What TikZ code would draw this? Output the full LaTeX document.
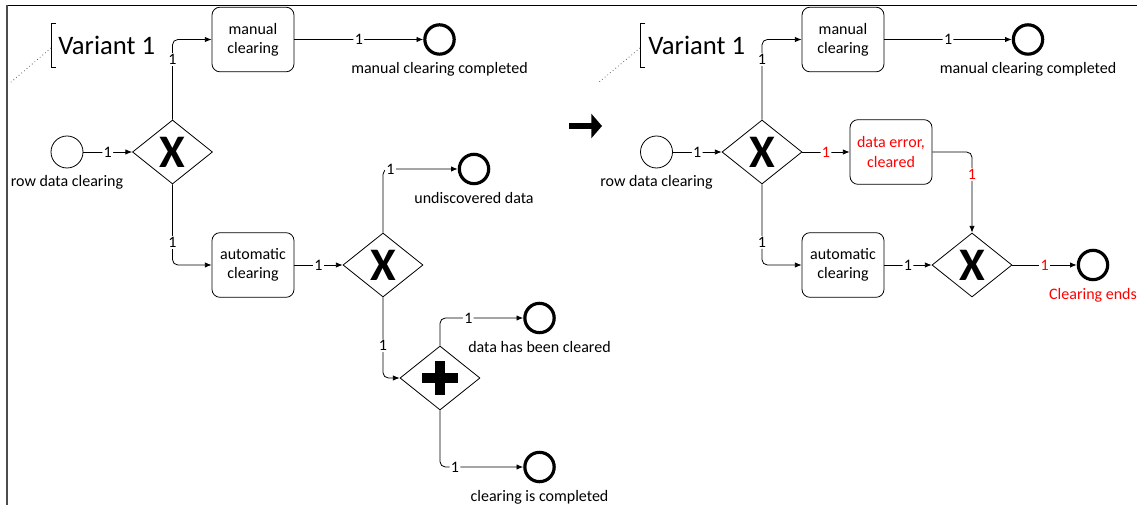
\documentclass[tikz,border=0pt]{standalone}
\usepackage{fontspec}
\setmainfont{Carlito}
\usetikzlibrary{shapes.geometric,arrows.meta,positioning}

\definecolor{errred}{RGB}{255,0,0}

\tikzset{
  startev/.style={circle,draw,line width=0.6pt,minimum size=24pt,inner sep=0pt},
  endev/.style={circle,draw,line width=2.4pt,minimum size=22pt,inner sep=0pt},
  task/.style={draw,rounded corners=6pt,line width=0.6pt,minimum width=61.5pt,minimum height=48.5pt,
    align=center,inner sep=1pt,font=\fontsize{12}{14.5}\selectfont},
  xgate/.style={diamond,draw,line width=0.6pt,minimum width=60pt,minimum height=48pt,inner sep=0pt,
    font=\fontsize{35}{35}\selectfont\bfseries},
  pgate/.style={diamond,draw,line width=0.6pt,minimum width=60pt,minimum height=48pt,inner sep=0pt,
    path picture={
      \draw[line width=7pt] ([xshift=-13.5pt]path picture bounding box.center) -- ([xshift=13.5pt]path picture bounding box.center)
        ([yshift=-12.75pt]path picture bounding box.center) -- ([yshift=12.75pt]path picture bounding box.center);
    }},
  flow/.style={-{Latex[length=5pt,width=4pt]},line width=0.6pt,rounded corners=4pt},
  num/.style={fill=white,inner sep=1pt,font=\fontsize{12}{12}\selectfont},
  evlabel/.style={inner sep=0pt,font=\fontsize{12}{14}\selectfont},
  varlabel/.style={anchor=west,inner sep=0pt,font=\fontsize{20}{20}\selectfont},
  bracket/.style={line width=0.5pt},
  assoc/.style={dotted,line width=0.6pt,black!60},
  bigarrow/.style={line width=4.5pt,-{Triangle[length=8pt,width=18pt]}},
}

\begin{document}
\begin{tikzpicture}[x=0.75pt,y=-0.75pt]
  \useasboundingbox (0,0) rectangle (1137,505);
  % frame
  \draw[line width=0.9pt] (7,5.5) -- (1137,5.5);
  \draw[line width=1.5pt,black!70] (7,5) -- (7,505);

  % variant 1, before
  \node[varlabel] (var1) at (58,45) {Variant 1};
  \draw[bracket] (56,23) -- (51,23) -- (51,67) -- (56,67);
  \coordinate (var1tail) at (10,83);
  \draw[assoc] (51,48) -- (var1tail);

  \node[startev] (start1) at (67,152) {};
  \node[xgate] (g1) at (172.5,152) {X};
  \node[task] (man1) at (253,39.5) {manual\\clearing};
  \node[endev] (manend1) at (439.5,39.5) {};
  \node[task] (auto1) at (253,265) {automatic\\clearing};
  \node[xgate] (g2) at (383,265) {X};
  \node[endev] (undend) at (474,169) {};
  \node[pgate] (g3) at (440,378) {};
  \node[endev] (clrend) at (539.5,318) {};
  \node[endev] (cmpend) at (539.5,467) {};

  \node[evlabel,below=4.8pt of start1] (start1lbl) {row data clearing};
  \node[evlabel,below=4.8pt of manend1] (manend1lbl) {manual clearing completed};
  \node[evlabel,below=4.8pt of undend] (undendlbl) {undiscovered data};
  \node[evlabel,below=4.8pt of clrend] (clrendlbl) {data has been cleared};
  \node[evlabel,below=4.8pt of cmpend] (cmpendlbl) {clearing is completed};

  \draw[flow] (start1) -- node[num]{1} (g1);
  \draw[flow] (g1.north) |- node[num,pos=0.375]{1} (man1);
  \draw[flow] (man1) -- node[num]{1} (manend1);
  \draw[flow] (g1.south) |- node[num,pos=0.36]{1} (auto1);
  \draw[flow] (auto1) -- node[num]{1} (g2);
  \draw[flow] (g2.north) |- node[num,pos=0.55]{1} (undend);
  \draw[flow] (g2.south) |- node[num,pos=0.3]{1} (g3);
  \draw[flow] (g3.north) |- node[num,pos=0.67]{1} (clrend);
  \draw[flow] (g3.south) |- node[num,pos=0.59]{1} (cmpend);

  % shift
  \coordinate (shiftL) at (569,126);
  \coordinate (shiftR) at (602,126);
  \draw[bigarrow] (shiftL) -- (shiftR);

  % variant 1, after
  \node[varlabel] (var2) at (648,45) {Variant 1};
  \draw[bracket] (645,23) -- (640,23) -- (640,67) -- (645,67);
  \coordinate (var2tail) at (598,83);
  \draw[assoc] (640,48) -- (var2tail);

  \node[startev] (start2) at (656.5,152) {};
  \node[xgate] (g4) at (762,152) {X};
  \node[task] (man2) at (843,39.5) {manual\\clearing};
  \node[endev] (manend2) at (1028,39.5) {};
  \node[task,text=errred] (err) at (891,152) {data error,\\cleared};
  \node[task] (auto2) at (843,265) {automatic\\clearing};
  \node[xgate] (g5) at (972,265) {X};
  \node[endev] (endr) at (1093,265) {};

  \node[evlabel,below=4.8pt of start2] (start2lbl) {row data clearing};
  \node[evlabel,below=4.8pt of manend2] (manend2lbl) {manual clearing completed};
  \node[evlabel,below=4.8pt of endr,text=errred] (endrlbl) {Clearing ends};

  \draw[flow] (start2) -- node[num]{1} (g4);
  \draw[flow] (g4.north) |- node[num,pos=0.375]{1} (man2);
  \draw[flow] (man2) -- node[num]{1} (manend2);
  \draw[flow] (g4) -- node[num,text=errred]{1} (err);
  \draw[flow] (err) -| node[num,text=errred,pos=0.64]{1} (g5);
  \draw[flow] (g4.south) |- node[num,pos=0.36]{1} (auto2);
  \draw[flow] (auto2) -- node[num]{1} (g5);
  \draw[flow] (g5) -- node[num,text=errred]{1} (endr);
\end{tikzpicture}
\end{document}
